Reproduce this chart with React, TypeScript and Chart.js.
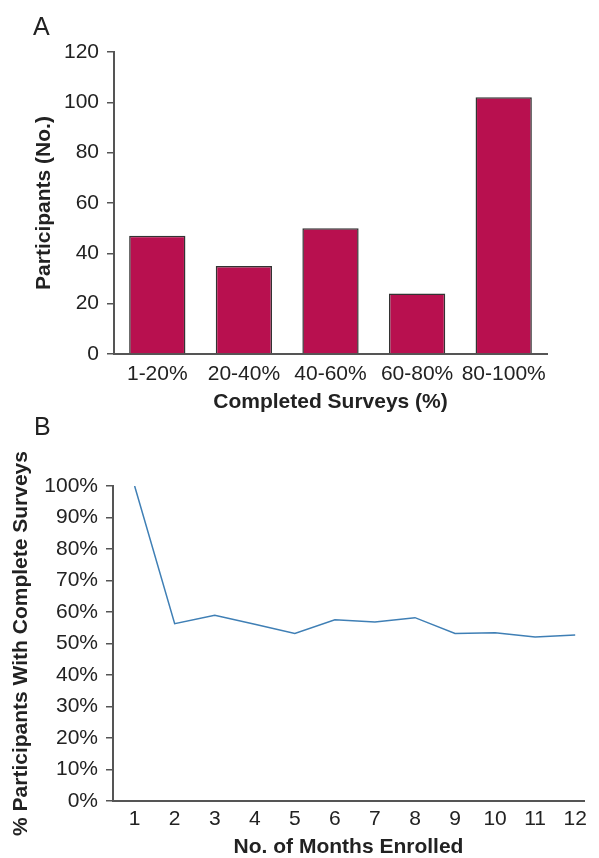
import React, { useEffect, useRef } from "react";
import { Chart, registerables } from "chart.js";

Chart.register(...registerables);

const barCategories = ["1-20%", "20-40%", "40-60%", "60-80%", "80-100%"];
const barValues = [47, 35, 50, 24, 102];
const barTicks = [0, 20, 40, 60, 80, 100, 120];

const months = [1, 2, 3, 4, 5, 6, 7, 8, 9, 10, 11, 12];
const completePct = [100, 56.3, 59.0, 56.1, 53.2, 57.5, 56.8, 58.2, 53.2, 53.4, 52.1, 52.7];
const pctTicks = [0, 10, 20, 30, 40, 50, 60, 70, 80, 90, 100];

const FONT = "'Liberation Sans', Arial, Helvetica, sans-serif";
const TEXT = "#222";
const AXIS = "#555";
const TICK_SIZE = 21;
const TITLE_SIZE = 21;

function fixY(width: number) {
  return (s: any) => {
    s.width = width;
    s.paddingTop = 0;
    s.paddingBottom = 0;
  };
}
function fixX(height: number) {
  return (s: any) => {
    s.height = height;
    s.paddingLeft = 0;
    s.paddingRight = 0;
  };
}

export default function App() {
  const refA = useRef<HTMLCanvasElement>(null);
  const refB = useRef<HTMLCanvasElement>(null);

  useEffect(() => {
    document.body.style.margin = "0";
    const chartA = new Chart(refA.current!, {
      type: "bar",
      data: {
        labels: barCategories,
        datasets: [
          {
            data: barValues,
            backgroundColor: "#b8104f",
            borderColor: "#333",
            borderWidth: 1.5,
            categoryPercentage: 0.65,
            barPercentage: 1,
          },
        ],
      },
      options: {
        animation: false,
        responsive: false,
        devicePixelRatio: 1,
        layout: { padding: { top: 52, right: 52, left: 0, bottom: 0 } },
        plugins: { legend: { display: false }, tooltip: { enabled: false } },
        scales: {
          x: {
            afterFit: fixX(71),
            grid: { display: false, drawTicks: false },
            border: { display: true, color: AXIS, width: 2 },
            ticks: {
              color: TEXT,
              font: { family: FONT, size: TICK_SIZE },
              padding: 8,
              autoSkip: false,
              maxRotation: 0,
              minRotation: 0,
            },
            title: {
              display: true,
              text: "Completed Surveys (%)",
              color: TEXT,
              font: { family: FONT, size: TITLE_SIZE, weight: "bold", lineHeight: 1 },
              padding: { top: 0, bottom: 12 },
            },
          },
          y: {
            afterFit: fixY(114),
            min: 0,
            max: 120,
            afterBuildTicks: (s: any) => {
              s.ticks = barTicks.map((v) => ({ value: v }));
            },
            grid: {
              display: true,
              drawOnChartArea: false,
              drawTicks: true,
              tickLength: 7,
              color: AXIS,
              lineWidth: 1.5,
            },
            border: { display: true, color: AXIS, width: 2 },
            ticks: { color: TEXT, font: { family: FONT, size: TICK_SIZE }, padding: 8 },
            title: {
              display: true,
              text: "Participants (No.)",
              color: TEXT,
              font: { family: FONT, size: TITLE_SIZE, weight: "bold", lineHeight: 1 },
              padding: { top: 34, bottom: 0 },
            },
          },
        },
      },
    });

    const chartB = new Chart(refB.current!, {
      type: "line",
      data: {
        datasets: [
          {
            data: months.map((m, i) => ({ x: m, y: completePct[i] })),
            borderColor: "#3f7fb5",
            borderWidth: 1.5,
            pointRadius: 0,
            fill: false,
            tension: 0,
          },
        ],
      },
      options: {
        animation: false,
        responsive: false,
        devicePixelRatio: 1,
        layout: { padding: { top: 61, right: 15, left: 0, bottom: 0 } },
        plugins: { legend: { display: false }, tooltip: { enabled: false } },
        scales: {
          x: {
            type: "linear",
            min: 0.46,
            max: 12.22,
            afterFit: fixX(57),
            afterBuildTicks: (s: any) => {
              s.ticks = months.map((v) => ({ value: v }));
            },
            grid: { display: false, drawTicks: false },
            border: { display: true, color: AXIS, width: 2 },
            ticks: {
              color: TEXT,
              font: { family: FONT, size: TICK_SIZE },
              padding: 6,
              autoSkip: false,
              maxRotation: 0,
              minRotation: 0,
              callback: (v: any) => String(v),
            },
            title: {
              display: true,
              text: "No. of Months Enrolled",
              color: TEXT,
              font: { family: FONT, size: TITLE_SIZE, weight: "bold", lineHeight: 1 },
              padding: { top: 0, bottom: 0 },
            },
          },
          y: {
            min: 0,
            max: 100,
            afterFit: fixY(113),
            afterBuildTicks: (s: any) => {
              s.ticks = pctTicks.map((v) => ({ value: v }));
            },
            grid: {
              display: true,
              drawOnChartArea: false,
              drawTicks: true,
              tickLength: 7,
              color: AXIS,
              lineWidth: 1.5,
            },
            border: { display: true, color: AXIS, width: 2 },
            ticks: {
              color: TEXT,
              font: { family: FONT, size: TICK_SIZE },
              padding: 8,
              callback: (v: any) => v + "%",
            },
            title: {
              display: true,
              text: "% Participants With Complete Surveys",
              color: TEXT,
              font: { family: FONT, size: TITLE_SIZE, weight: "bold", lineHeight: 1 },
              padding: { top: 11, bottom: 0 },
            },
          },
        },
      },
    });

    return () => {
      chartA.destroy();
      chartB.destroy();
    };
  }, []);

  const panelLabel: React.CSSProperties = {
    position: "absolute",
    fontFamily: FONT,
    fontSize: 25,
    color: TEXT,
    lineHeight: "25px",
  };

  return (
    <div style={{ position: "absolute", left: 0, top: 0, width: 599, height: 858, background: "#fff", overflow: "hidden" }}>
      <canvas ref={refA} width={599} height={425} style={{ position: "absolute", left: 0, top: 0, width: 599, height: 425 }} />
      <canvas ref={refB} width={599} height={433} style={{ position: "absolute", left: 0, top: 425, width: 599, height: 433 }} />
      <div style={{ ...panelLabel, left: 33, top: 14 }}>A</div>
      <div style={{ ...panelLabel, left: 34, top: 414 }}>B</div>
    </div>
  );
}
